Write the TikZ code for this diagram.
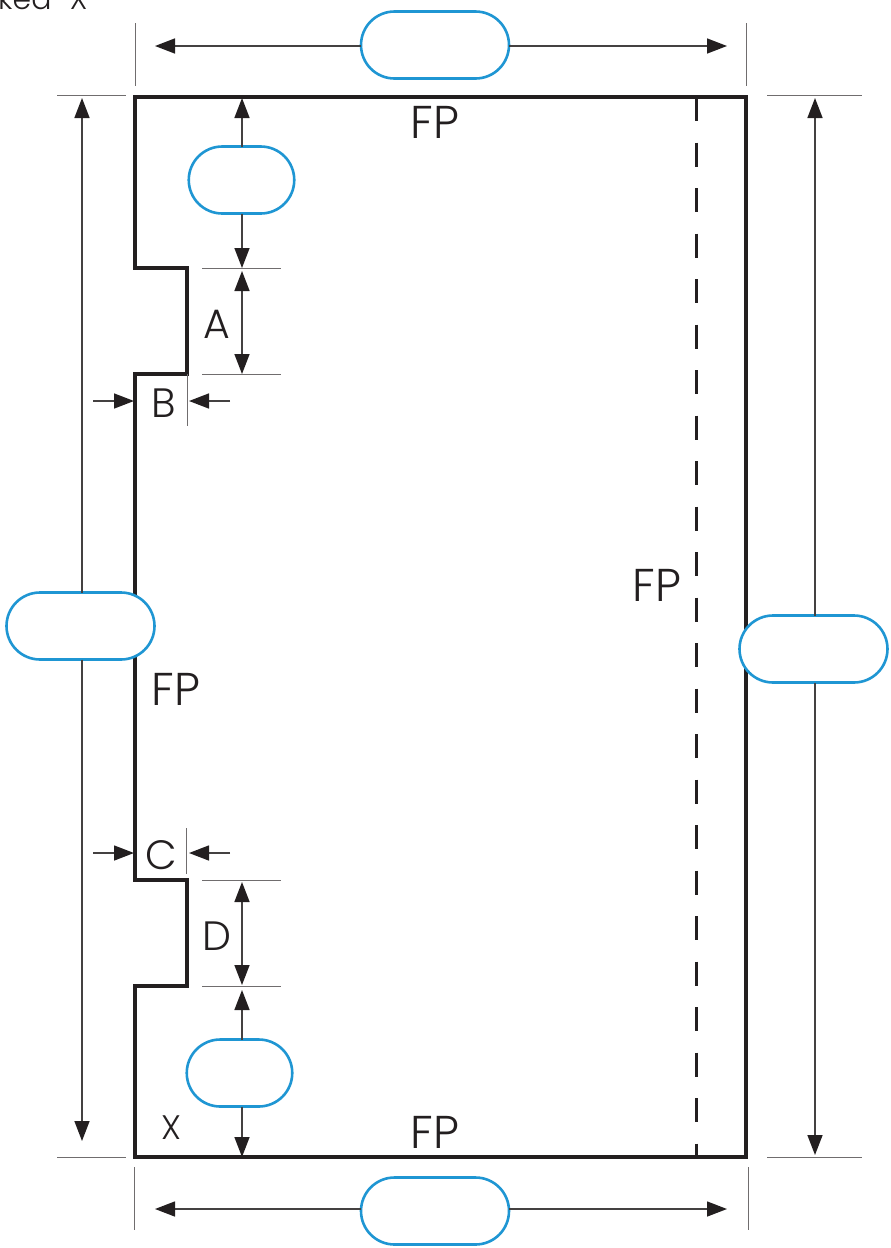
\documentclass[tikz,border=0pt]{standalone}
\usepackage{fontspec}
\setmainfont{Poppins Light}
\usetikzlibrary{arrows.meta}
\usetikzlibrary{shapes.misc}
\definecolor{ink}{HTML}{231F20}
\definecolor{pillblue}{HTML}{1F96D3}
\tikzset{
    frame/.style={-, draw=ink, line width=3.1pt, line join=miter},
    fold/.style={-, draw=ink, line width=3pt, dash pattern=on 24pt off 21.5pt},
    guide/.style={-, draw=ink!65, line width=1pt},
    dim/.style={draw=ink!85, line width=1.5pt},
    pill/.style={rounded rectangle, draw=pillblue, fill=white, line width=2.6pt, inner sep=0pt, outer sep=0pt, minimum height=67pt},
    widepill/.style={pill, minimum width=148pt},
    smallpill/.style={pill, minimum width=105.5pt},
    big/.style={inner sep=0pt, text=ink, font=\fontsize{46}{46}\selectfont},
    mid/.style={inner sep=0pt, text=ink, font=\fontsize{41}{41}\selectfont},
    small/.style={inner sep=0pt, text=ink, font=\fontsize{34}{34}\selectfont}
}
\begin{document}
\begin{tikzpicture}[x=1pt, y=-1pt, ->, >={Triangle[length=20pt, width=15pt, color=ink]}]
    \useasboundingbox (0, 0) rectangle (891, 1248);

    % outline with the two notches
    \draw[frame] (135, 97) -- (746, 97) -- (746, 1157) -- (135, 1157) -- (135, 986) -- (187, 986)
        -- (187, 880) -- (135, 880) -- (135, 374) -- (187, 374) -- (187, 268) -- (135, 268) -- cycle;
    \coordinate (foldtop) at (696, 97);
    \coordinate (foldbot) at (696, 1157);
    \draw[fold] (foldtop) -- (foldbot);

    % guide lines
    \foreach \a/\b/\c/\d in {135/23/135/86, 746/23/746/86, 134/1167/134/1230, 748/1167/748/1230,
        57/95/126/95, 57/1157/126/1157, 767/95/862/95, 767/1157/862/1157,
        202/268/281/268, 202/374/281/374, 202/880/281/880, 202/986/281/986,
        187/374/187/426, 186/828/186/874} {
        \coordinate (ga) at (\a, \b);
        \coordinate (gb) at (\c, \d);
        \draw[guide] (ga) -- (gb);
    }

    % pills
    \node[widepill] (top) at (435, 45) {};
    \node[widepill] (bottom) at (435, 1211) {};
    \node[widepill] (left) at (80.5, 626) {};
    \node[widepill] (right) at (813.5, 649) {};
    \node[smallpill] (upper) at (241.5, 180) {};
    \node[smallpill] (lower) at (239.5, 1073) {};

    % labels
    \node[big] (fp1) at (435, 122) {FP};
    \node[big] (fp2) at (657, 585) {FP};
    \node[big] (fp3) at (176, 689) {FP};
    \node[big] (fp4) at (435, 1132) {FP};
    \node[mid] (a) at (217, 324) {A};
    \node[mid] (b) at (164, 403) {B};
    \node[mid] (c) at (161, 855) {C};
    \node[mid] (d) at (217, 936) {D};
    \node[small] (x) at (171, 1128) {X};
    \node[inner sep=0pt, text=ink, font=\fontsize{30}{30}\selectfont, anchor=base west] (cut) at (-2, 9) {ked "X"};

    % arrow ends
    \coordinate (t1) at (155, 46);
    \coordinate (t2) at (727, 46);
    \coordinate (b1) at (155, 1209);
    \coordinate (b2) at (727, 1209);
    \coordinate (l1) at (82, 98);
    \coordinate (l2) at (82, 1141);
    \coordinate (r1) at (815, 98);
    \coordinate (r2) at (815, 1155);
    \coordinate (u1) at (242, 98);
    \coordinate (u2) at (242, 268);
    \coordinate (a1) at (242, 271);
    \coordinate (a2) at (242, 374);
    \coordinate (d1) at (242, 882);
    \coordinate (d2) at (242, 985);
    \coordinate (w1) at (242, 990);
    \coordinate (w2) at (242, 1157);
    \coordinate (bs) at (93, 401);
    \coordinate (be) at (134, 401);
    \coordinate (cs) at (230, 401);
    \coordinate (ce) at (189, 401);
    \coordinate (es) at (93, 853);
    \coordinate (ee) at (134, 853);
    \coordinate (fs) at (230, 853);
    \coordinate (fe) at (189, 853);

    % arrows
    \draw[dim] (top.west |- t1) -- (t1);
    \draw[dim] (top.east |- t2) -- (t2);
    \draw[dim] (bottom.west |- b1) -- (b1);
    \draw[dim] (bottom.east |- b2) -- (b2);
    \draw[dim] (l1 |- left.north) -- (l1);
    \draw[dim] (l2 |- left.south) -- (l2);
    \draw[dim] (r1 |- right.north) -- (r1);
    \draw[dim] (r2 |- right.south) -- (r2);
    \draw[dim] (u1 |- upper.north) -- (u1);
    \draw[dim] (u2 |- upper.south) -- (u2);
    \draw[dim] (w1 |- lower.north) -- (w1);
    \draw[dim] (w2 |- lower.south) -- (w2);
    \draw[dim, <->] (a1) -- (a2);
    \draw[dim, <->] (d1) -- (d2);
    \draw[dim] (bs) -- (be);
    \draw[dim] (cs) -- (ce);
    \draw[dim] (es) -- (ee);
    \draw[dim] (fs) -- (fe);
\end{tikzpicture}
\end{document}
